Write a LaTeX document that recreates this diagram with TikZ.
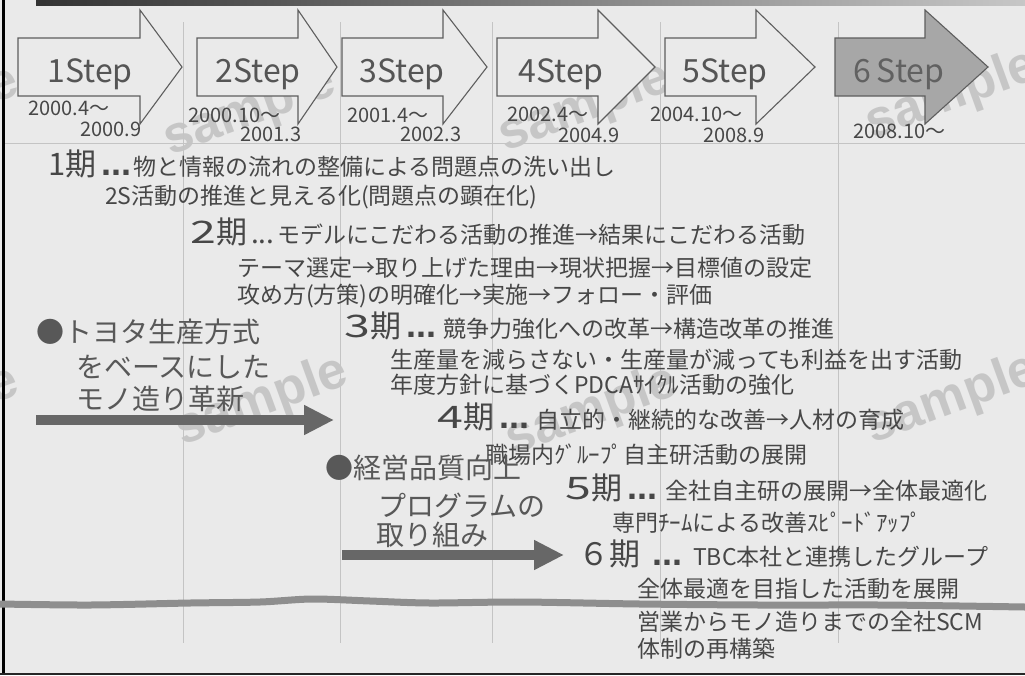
\documentclass[tikz,border=0pt]{standalone}
\usepackage{fontspec}
\usepackage{graphicx}
\setmainfont{Noto Sans CJK JP}
\newfontfamily\wmfont{Liberation Sans}
\usetikzlibrary{arrows.meta}
\newcommand\widedig[1]{\scalebox{1.5}[1]{#1}}
\definecolor{bg}{HTML}{EAEAEA}
\definecolor{txt}{HTML}{474747}
\definecolor{sidetxt}{HTML}{585858}
\definecolor{steptc}{HTML}{555555}
\definecolor{outline}{HTML}{5E5E5E}
\definecolor{stepfill}{HTML}{A7A7A7}
\definecolor{bigarrowc}{HTML}{676767}
\definecolor{gridc}{HTML}{C4C4C4}
\definecolor{bandc}{HTML}{8E8E8E}
\definecolor{wmc}{HTML}{A4A4A4}
\begin{document}
\begin{tikzpicture}[x=1pt,y=-1pt,
  stepbox/.style={draw=outline,line width=1.1pt,line join=miter,fill=bg},
  stepboxdark/.style={draw=outline,line width=1.1pt,line join=miter,fill=stepfill},
  steptext/.style={font=\fontsize{32}{32}\selectfont,text=steptc,inner sep=0,anchor=base},
  datetext/.style={font=\fontsize{20}{20}\selectfont,text=txt,inner sep=0,anchor=base west},
  bigl/.style={font=\fontsize{31}{31}\selectfont,text=txt,inner sep=0,anchor=base west},
  dotsb/.style={font=\wmfont\bfseries\fontsize{36}{36}\selectfont,text=txt,inner sep=0,anchor=base west},
  dotsl/.style={font=\fontsize{28}{28}\selectfont,text=txt,inner sep=0,anchor=base west},
  bodyt/.style={font=\fontsize{23}{23}\selectfont,text=txt,inner sep=0,anchor=base west},
  sidet/.style={font=\fontsize{28}{28}\selectfont,text=sidetxt,inner sep=0,anchor=base west},
  wm/.style={font=\wmfont\bfseries\fontsize{52}{52}\selectfont,text=wmc,opacity=0.5,rotate=20,inner sep=0},
  gridline/.style={draw=gridc,line width=0.8pt},
  bigarrow/.style={draw=bigarrowc,line width=10pt,-{Triangle[length=30pt,width=28pt]}},
  band/.style={draw=bandc,line width=7pt,line cap=round}
]
\useasboundingbox (0,0) rectangle (1025,675);
\fill[bg] (0,0) rectangle (1025,675);

% watermarks
\node[wm] (wm1) at (-67,112) {sample};
\node[wm] (wm2) at (250,112) {sample};
\node[wm] (wm3) at (585,108) {sample};
\node[wm] (wm4) at (952,96) {sample};
\node[wm] (wm5) at (-67,412) {sample};
\node[wm] (wm6) at (262,402) {sample};
\node[wm] (wm7) at (592,412) {sample};
\node[wm] (wm8) at (952,400) {sample};

% frame
\shade[left color=black!80,right color=black!22] (36,0) rectangle (1025,5);
\draw[black,line width=3pt] (3,0) -- (3,675);
\draw[black!85,line width=2pt] (0,674) -- (1025,674);

% grid
\draw[gridline] (5,143) -- (1025,143);
\foreach \gx in {183,340,492,660,838} \draw[gridline] (\gx,22) -- (\gx,643);

% wavy band
\draw[band] plot[smooth] coordinates {(0,604) (90,605) (190,603) (260,602) (312,599) (370,601) (430,603) (520,602) (640,604) (760,605) (880,605) (960,606) (1025,607)};

% step arrows
\draw[stepbox] (18,38) -- (140,38) -- (140,10) -- (182,67) -- (140,124) -- (140,96) -- (18,96) -- cycle;
\draw[stepbox] (197,38) -- (298,38) -- (298,10) -- (337,67) -- (298,124) -- (298,96) -- (197,96) -- cycle;
\draw[stepbox] (342,38) -- (443,38) -- (443,10) -- (487,67) -- (443,124) -- (443,96) -- (342,96) -- cycle;
\draw[stepbox] (497,38) -- (598,38) -- (598,10) -- (655,67) -- (598,124) -- (598,96) -- (497,96) -- cycle;
\draw[stepbox] (665,38) -- (756,38) -- (756,10) -- (815,67) -- (756,124) -- (756,96) -- (665,96) -- cycle;
\draw[stepboxdark] (835,38) -- (925,38) -- (925,10) -- (988,67) -- (925,124) -- (925,96) -- (835,96) -- cycle;

\node[steptext] (st1) at (90,82) {1Step};
\node[steptext] (st2) at (258,82) {2Step};
\node[steptext] (st3) at (402,82) {3Step};
\node[steptext] (st4) at (561,82) {4Step};
\node[steptext] (st5) at (725,82) {5Step};
\node[steptext,text=black!62] (st6) at (899,82) {6\,Step};

% dates
\node[datetext] (da1) at (28,115) {2000.4〜};
\node[datetext] (db1) at (80,136) {2000.9};
\node[datetext] (da2) at (188,122) {2000.10〜};
\node[datetext] (db2) at (240,141) {2001.3};
\node[datetext] (da3) at (347,122) {2001.4〜};
\node[datetext] (db3) at (400,141) {2002.3};
\node[datetext] (da4) at (507,121) {2002.4〜};
\node[datetext] (db4) at (558,142) {2004.9};
\node[datetext] (da5) at (650,121) {2004.10〜};
\node[datetext] (db5) at (703,142) {2008.9};
\node[datetext] (da6) at (853,138) {2008.10〜};

% period lines
\node[bigl] (p1) at (48,175) {1期};
\node[dotsb] (d1) at (101,175) {...};
\node[bodyt] (t1) at (133,175) {物と情報の流れの整備による問題点の洗い出し};
\node[bodyt] (t1b) at (105,204) {2S活動の推進と見える化(問題点の顕在化)};
\node[bigl] (p2) at (190,243) {\widedig{2}期};
\node[dotsl] (d2) at (251,243) {...};
\node[bodyt] (t2) at (277,243) {モデルにこだわる活動の推進→結果にこだわる活動};
\node[bodyt] (t2b) at (237,276) {テーマ選定→取り上げた理由→現状把握→目標値の設定};
\node[bodyt] (t2c) at (237,303) {攻め方(方策)の明確化→実施→フォロー・評価};
\node[bigl] (p3) at (344,337) {\widedig{3}期};
\node[dotsb] (d3) at (406,337) {...};
\node[bodyt] (t3) at (443,337) {競争力強化への改革→構造改革の推進};
\node[bodyt] (t3b) at (390,368) {生産量を減らさない・生産量が減っても利益を出す活動};
\node[bodyt] (t3c) at (390,393) {年度方針に基づくPDCAｻｲｸﾙ活動の強化};
\node[bigl] (p4) at (437,428) {\widedig{4}期};
\node[dotsb] (d4) at (499,428) {...};
\node[bodyt] (t4) at (536,428) {自立的・継続的な改善→人材の育成};
\node[bodyt] (t4b) at (485,463) {職場内ｸﾞﾙｰﾌﾟ自主研活動の展開};
\node[bigl] (p5) at (565,499) {\widedig{5}期};
\node[dotsb] (d5) at (627,499) {...};
\node[bodyt] (t5) at (665,499) {全社自主研の展開→全体最適化};
\node[bodyt] (t5b) at (612,531) {専門ﾁｰﾑによる改善ｽﾋﾟｰﾄﾞｱｯﾌﾟ};
\node[bigl] (p6) at (578,565) {６期};
\node[dotsb] (d6) at (652,565) {...};
\node[bodyt] (t6) at (693,565) {TBC本社と連携したグループ};
\node[bodyt] (t6b) at (637,597) {全体最適を目指した活動を展開};
\node[bodyt] (t6c) at (637,630) {営業からモノ造りまでの全社SCM};
\node[bodyt] (t6d) at (637,657) {体制の再構築};

% side labels
\node[sidet] (s1) at (36,342) {●トヨタ生産方式};
\node[sidet] (s1b) at (76,377) {をベースにした};
\node[sidet] (s1c) at (76,409) {モノ造り革新};
\node[sidet] (s2) at (325,478) {●経営品質向上};
\node[sidet] (s2b) at (378,516) {プログラムの};
\node[sidet] (s2c) at (376,545) {取り組み};

% big arrows
\coordinate (a1s) at (36,420);
\coordinate (a1e) at (334,420);
\coordinate (a2s) at (342,555);
\coordinate (a2e) at (564,555);
\draw[bigarrow] (a1s) -- (a1e);
\draw[bigarrow] (a2s) -- (a2e);
\end{tikzpicture}
\end{document}
